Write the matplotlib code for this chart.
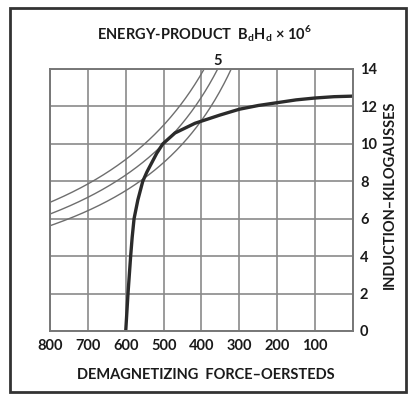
import numpy as np
import matplotlib
matplotlib.use("Agg")
import matplotlib.pyplot as plt
from matplotlib.patches import Rectangle

plt.rcParams['font.family'] = ['Lato', 'DejaVu Sans']

# Demagnetization curve: force (oersteds) vs induction (kilogausses)
demag_force = [600, 597, 594, 590.5, 587, 583, 578, 568, 555, 544, 531, 518, 502,
               470, 417, 351, 300, 250, 200, 150, 100, 50, 0]
demag_induction = [0, 1, 2, 3, 4, 5, 6, 7, 8, 8.5, 9, 9.5, 10,
                   10.58, 11.1, 11.54, 11.85, 12.05, 12.2, 12.35, 12.45, 12.52, 12.55]

# Constant energy-product contours, B_d*H_d in units of 10^6 gauss-oersteds
energy_products = [4.5, 5.0, 5.5]
labelled_product = 5.0

x_ticks = [800, 700, 600, 500, 400, 300, 200, 100]
y_ticks = [0, 2, 4, 6, 8, 10, 12, 14]

fig = plt.figure(figsize=(4.08, 3.94), dpi=100)
ax = fig.add_axes([0.1225, 0.1599, 0.7426, 0.665])

grid_col = '#8a8a8a'
ax.set_xlim(800, 0)
ax.set_ylim(0, 14)
ax.set_xticks(list(range(0, 801, 100)))
ax.set_xticklabels([str(v) if v in x_ticks else '' for v in range(0, 801, 100)])
ax.set_yticks(y_ticks)
ax.yaxis.tick_right()
ax.grid(True, color=grid_col, linewidth=1.2)
ax.set_axisbelow(True)
for s in ax.spines.values():
    s.set_color('#777777')
    s.set_linewidth(1.4)
ax.tick_params(axis='both', length=0, labelsize=10.5, colors='#1a1a1a')
ax.tick_params(axis='x', pad=6)
ax.tick_params(axis='y', pad=5)
for lab in ax.get_xticklabels() + ax.get_yticklabels():
    lab.set_fontweight('bold')

# hyperbolas B*H = const
for e in energy_products:
    h = np.linspace(e * 1000 / 14.0, 800, 200)
    ax.plot(h, e * 1000 / h, color='#6e6e6e', linewidth=1.0, clip_on=True)

ax.plot(demag_force, demag_induction, color='#2b2b2b', linewidth=2.4,
        solid_capstyle='butt', solid_joinstyle='round')

ax.annotate('5', xy=(labelled_product * 1000 / 14.0, 14), xytext=(0, 0.5),
            textcoords='offset points', ha='center', va='bottom',
            fontsize=10.5, fontweight='bold', color='#1a1a1a',
            annotation_clip=False)

fig.text(204 / 408, 1 - 34 / 394,
         r'ENERGY-PRODUCT  B$_\mathregular{d}$H$_\mathregular{d}$ × 10$^\mathregular{6}$',
         ha='center', va='center', fontsize=10.5, fontweight='bold', color='#1a1a1a')
fig.text(206 / 408, 1 - 375 / 394, 'DEMAGNETIZING  FORCE–OERSTEDS',
         ha='center', va='center', fontsize=10.5, fontweight='bold', color='#1a1a1a')
fig.text(390 / 408, 1 - 195 / 394, 'INDUCTION–KILOGAUSSES', rotation=90,
         ha='center', va='center', fontsize=10.5, fontweight='bold', color='#1a1a1a')

# outer frame around the whole figure
fig.patches.append(Rectangle((10 / 408, 1 - 392 / 394), 396 / 408, 384 / 394,
                             transform=fig.transFigure, fill=False,
                             edgecolor='#333333', linewidth=2.0))

fig.savefig('out.png', dpi=100)
